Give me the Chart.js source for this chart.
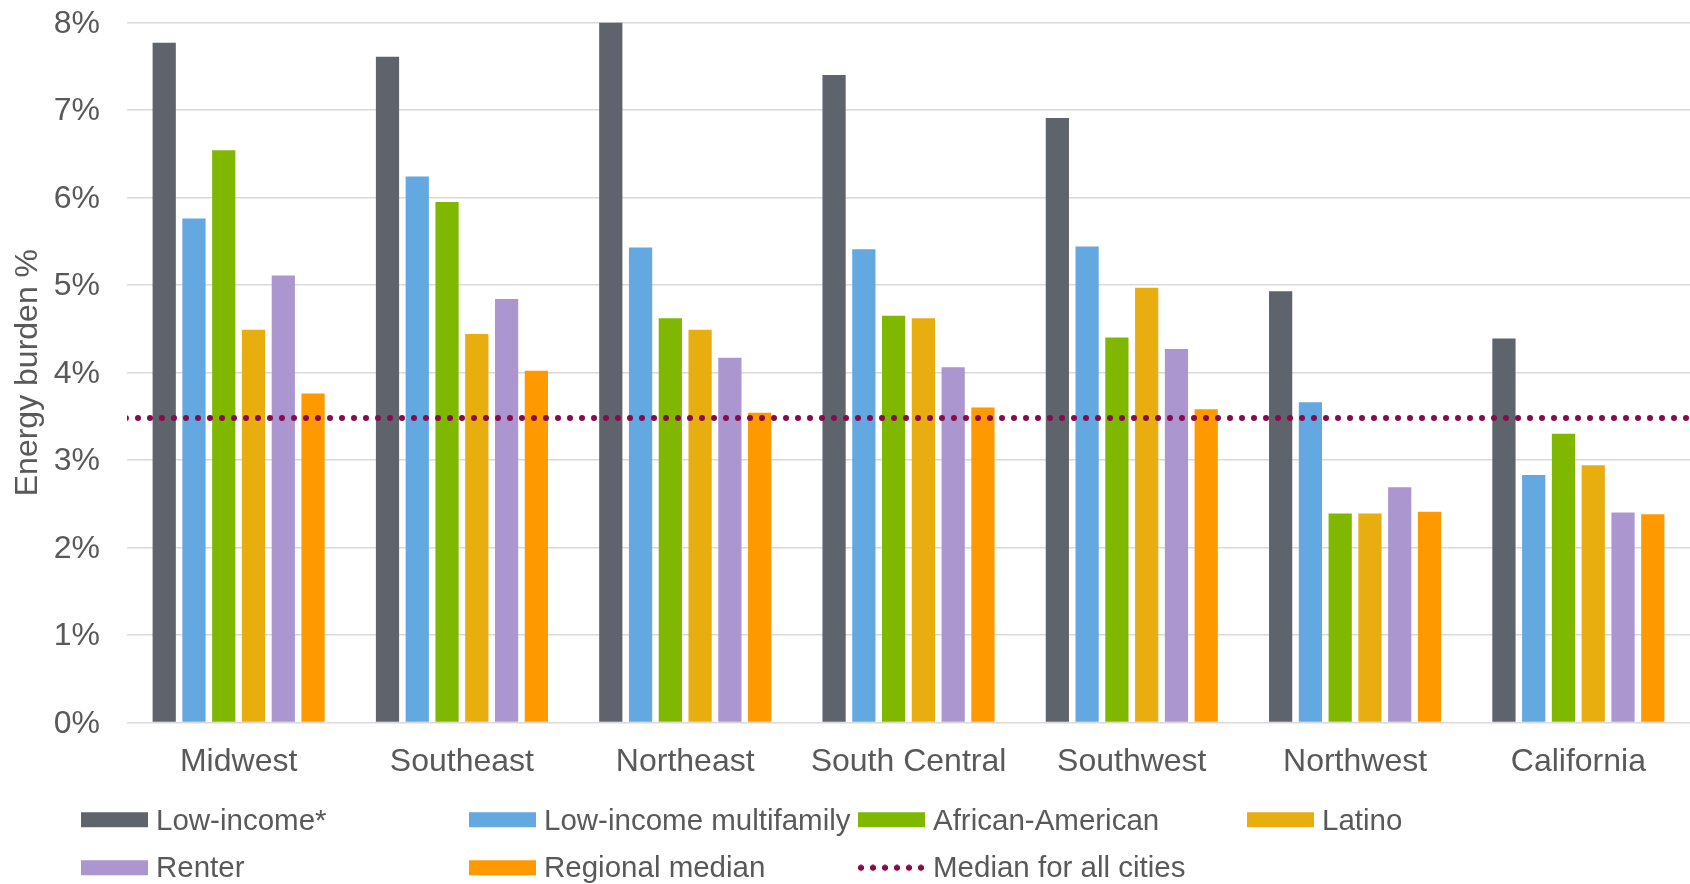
<!DOCTYPE html>
<html>
<head>
<meta charset="utf-8">
<title>Energy burden by region</title>
<script src="https://cdn.jsdelivr.net/npm/chart.js@4.4.1/dist/chart.umd.min.js"></script>
<style>
  html, body { margin: 0; padding: 0; background: #ffffff; }
  #wrap { position: relative; width: 1690px; height: 884px; overflow: hidden; }
  #chart { position: absolute; left: 0; top: 0; }
  .legend-item {
    position: absolute;
    display: flex;
    align-items: center;
    transform: translateY(-50%);
    font-family: "Liberation Sans", Arial, sans-serif;
    font-size: 29.5px;
    line-height: 1;
    color: #595959;
    white-space: nowrap;
  }
  .legend-swatch { display: inline-block; width: 67px; height: 15px; margin-right: 8px; }
</style>
</head>
<body>
<div id="wrap">
  <canvas id="chart" width="1690" height="884"></canvas>
  <div id="legend"></div>
</div>
<script>
// Regions along the x axis
const regions = ['Midwest', 'Southeast', 'Northeast', 'South Central', 'Southwest', 'Northwest', 'California'];

// Energy burden (% of income) per household group
const lowIncome            = [7.77, 7.61, 8.00, 7.40, 6.91, 4.93, 4.39];
const lowIncomeMultifamily = [5.76, 6.24, 5.43, 5.41, 5.44, 3.66, 2.83];
const africanAmerican      = [6.54, 5.95, 4.62, 4.65, 4.40, 2.39, 3.30];
const latino               = [4.49, 4.44, 4.49, 4.62, 4.97, 2.39, 2.94];
const renter               = [5.11, 4.84, 4.17, 4.06, 4.27, 2.69, 2.40];
const regionalMedian       = [3.76, 4.02, 3.54, 3.60, 3.58, 2.41, 2.38];

// Median energy burden across all cities
const medianAllCities = 3.48;

// Series names
const seriesNames = ['Low-income*', 'Low-income multifamily', 'African-American', 'Latino', 'Renter', 'Regional median'];
const medianName = 'Median for all cities';

// y axis tick labels
const yTickLabels = ['0%', '1%', '2%', '3%', '4%', '5%', '6%', '7%', '8%'];

const seriesValues = [lowIncome, lowIncomeMultifamily, africanAmerican, latino, renter, regionalMedian];
const seriesColors = ['#5f636b', '#63a8e1', '#80b800', '#e8ae10', '#ab96cf', '#fe9900'];
const medianColor = '#870a4c';
const MEDIAN_DOT = 6;
const MEDIAN_GAP = 12;

const FONT = "'Liberation Sans', Arial, sans-serif";
const TEXT = '#595959';

const barDatasets = seriesValues.map((vals, i) => ({
  label: seriesNames[i],
  data: vals,
  backgroundColor: seriesColors[i],
  borderWidth: 0
}));

// Dotted horizontal line at the all-city median, placed with the y scale
const medianLinePlugin = {
  id: 'medianLine',
  afterDatasetsDraw(chart) {
    const { ctx, chartArea, scales } = chart;
    const y = scales.y.getPixelForValue(medianAllCities);
    ctx.save();
    ctx.beginPath();
    ctx.rect(chartArea.left, 0, chartArea.right - chartArea.left, chart.height);
    ctx.clip();
    ctx.strokeStyle = medianColor;
    ctx.lineWidth = MEDIAN_DOT;
    ctx.lineCap = 'round';
    ctx.setLineDash([0, MEDIAN_GAP]);
    ctx.beginPath();
    ctx.moveTo(chartArea.left - 1, y);
    ctx.lineTo(chartArea.right + MEDIAN_GAP, y);
    ctx.stroke();
    ctx.restore();
  }
};

const chart = new Chart(document.getElementById('chart'), {
  type: 'bar',
  data: { labels: regions, datasets: barDatasets },
  plugins: [medianLinePlugin],
  options: {
    responsive: false,
    animation: false,
    devicePixelRatio: 1,
    layout: { padding: { top: 22.6, left: 0, right: 0, bottom: 0 } },
    datasets: { bar: { categoryPercentage: 0.8, barPercentage: 0.78 } },
    plugins: { legend: { display: false }, tooltip: { enabled: false } },
    scales: {
      x: {
        grid: { display: false },
        border: { display: false },
        ticks: { font: { family: FONT, size: 32 }, color: TEXT, padding: 12, maxRotation: 0, autoSkip: false },
        afterFit: (s) => { s.height = 884 - 722.6; s.paddingLeft = 0; s.paddingRight = 0; }
      },
      y: {
        min: 0,
        max: 8,
        ticks: {
          stepSize: 1,
          font: { family: FONT, size: 32 },
          color: TEXT,
          padding: 27,
          labelOffset: 1.5,
          callback: (v) => yTickLabels[v]
        },
        grid: { color: '#d9d9d9', lineWidth: 1.5, drawTicks: false },
        border: { display: false },
        title: {
          display: true,
          text: 'Energy burden %',
          font: { family: FONT, size: 32 },
          color: TEXT,
          padding: { top: 9, bottom: 0 }
        },
        afterFit: (s) => { s.width = 127; s.paddingTop = 0; s.paddingBottom = 0; }
      }
    }
  }
});

// Legend laid out as a four-column grid under the chart
const legendEntries = chart.data.datasets
  .map((ds) => ({ label: ds.label, color: ds.backgroundColor, dotted: false }))
  .concat([{ label: medianName, color: medianColor, dotted: true }]);
const legendCols = [81, 469, 858, 1247];
const legendRows = [819.7, 867.3];
const legendEl = document.getElementById('legend');
legendEntries.forEach((entry, i) => {
  const item = document.createElement('div');
  item.className = 'legend-item';
  item.style.left = legendCols[i % 4] + 'px';
  item.style.top = legendRows[Math.floor(i / 4)] + 'px';
  const sw = document.createElement('span');
  sw.className = 'legend-swatch';
  sw.style.background = entry.dotted
    ? `radial-gradient(circle, ${entry.color} 2.8px, transparent 3.4px) -3px center / ${MEDIAN_GAP}px 15px repeat-x`
    : entry.color;
  const txt = document.createElement('span');
  txt.textContent = entry.label;
  item.appendChild(sw);
  item.appendChild(txt);
  legendEl.appendChild(item);
});
</script>
</body>
</html>
